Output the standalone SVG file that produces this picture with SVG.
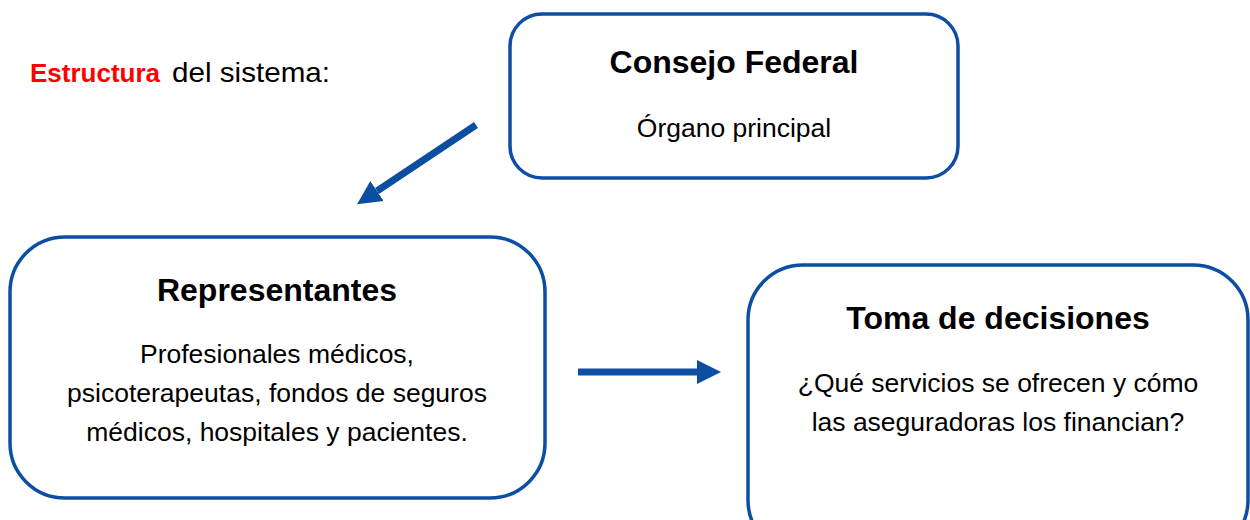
<svg xmlns="http://www.w3.org/2000/svg" width="1250" height="520" viewBox="0 0 1250 520">
<style>
.box{fill:#fff;stroke:#0B4EA2;stroke-width:3.5}
.t{font-family:"Liberation Sans",Arial,sans-serif;fill:#000;text-anchor:middle}
.h{font-size:32px;font-weight:bold}
.b{font-size:26.5px}
.conn{stroke:#0B4EA2;stroke-width:7;fill:none}
</style>
<defs>
<marker id="ah" markerUnits="userSpaceOnUse" markerWidth="26" markerHeight="26" refX="0" refY="12" orient="auto" viewBox="0 0 26 24">
<path d="M0,0 L24,12 L0,24 Z" fill="#0B4EA2"/>
</marker>
</defs>
<rect width="1250" height="520" fill="#fff"/>
<text y="82" style="font-family:'Liberation Sans',Arial,sans-serif"><tspan x="30" fill="#FF0000" font-weight="bold" font-size="26px">Estructura</tspan><tspan x="172" fill="#000" font-size="28px" textLength="158" lengthAdjust="spacingAndGlyphs">del sistema:</tspan></text>
<g id="consejo">
<rect class="box" x="510" y="14" width="448" height="164" rx="32"/>
<text class="t h" x="734" y="73">Consejo Federal</text>
<text class="t b" x="734" y="137">Órgano principal</text>
</g>
<g id="representantes">
<rect class="box" x="10" y="237" width="535" height="261" rx="55"/>
<text class="t h" x="277" y="301">Representantes</text>
<text class="t b" x="277" y="363">Profesionales médicos,</text>
<text class="t b" x="277" y="402">psicoterapeutas, fondos de seguros</text>
<text class="t b" x="277" y="441">médicos, hospitales y pacientes.</text>
</g>
<g id="toma">
<rect class="box" x="748" y="265" width="500" height="290" rx="55"/>
<text class="t h" x="998" y="329">Toma de decisiones</text>
<text class="t b" x="998" y="392">¿Qué servicios se ofrecen y cómo</text>
<text class="t b" x="998" y="431">las aseguradoras los financian?</text>
</g>
<g id="connectors">
<line class="conn" x1="476" y1="125" x2="377" y2="191" marker-end="url(#ah)"/>
<line class="conn" x1="578" y1="372" x2="697" y2="372" marker-end="url(#ah)"/>
</g>
</svg>
